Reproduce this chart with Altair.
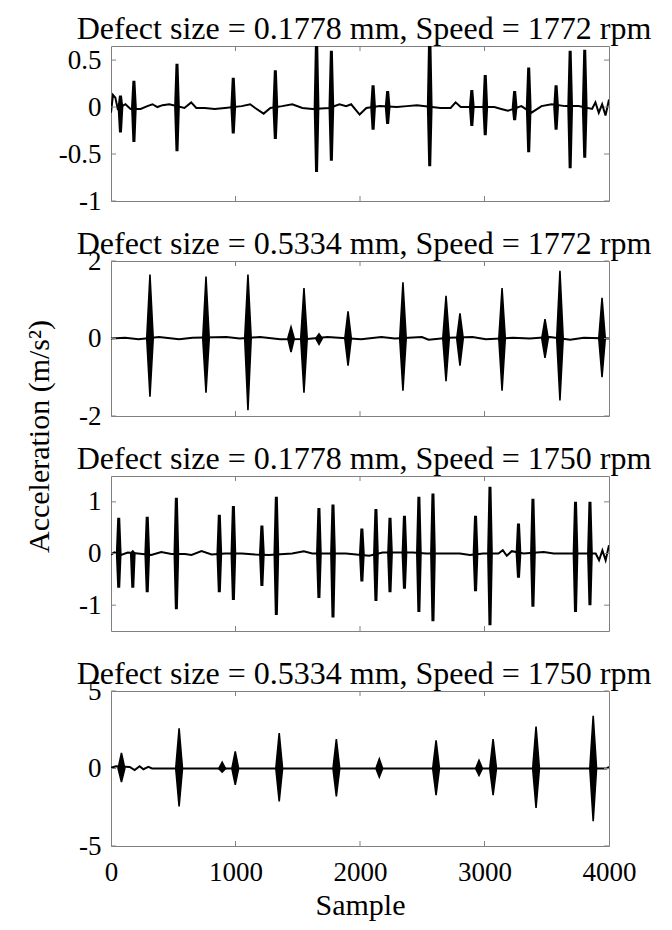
import altair as alt
import pandas as pd

FONT = "Liberation Serif, Times New Roman, serif"
W, H, GAP = 498, 155, 60
TICK = 5
BOX = "#808080"

TITLES = [
    "Defect size = 0.1778 mm, Speed = 1772 rpm",
    "Defect size = 0.5334 mm, Speed = 1772 rpm",
    "Defect size = 0.1778 mm, Speed = 1750 rpm",
    "Defect size = 0.5334 mm, Speed = 1750 rpm",
]
X_DOMAIN = [0, 4000]
X_TICKS = [0, 1000, 2000, 3000, 4000]
Y_DOMAINS = [[-1, 0.65], [-2, 2], [-1.5, 1.5], [-5, 5]]
Y_TICKS = [[-1, -0.5, 0, 0.5], [-2, 0, 2], [-1, 0, 1], [-5, 0, 5]]
Y_TITLE = "Acceleration (m/s²)"
X_TITLE = "Sample"

# ---- Panel 1: slow baseline + impulses
p1_base_x = [0, 16, 35, 54, 89, 116, 157, 238, 292, 333, 373, 414, 468, 590, 644, 685, 752, 833,
             915, 1050, 1118, 1158, 1226, 1280, 1375, 1456, 1537, 1618, 1753, 1835, 1889, 1929,
             1997, 2051, 2159, 2295, 2376, 2457, 2646, 2728, 2768, 2809, 2944, 3079, 3134, 3188,
             3296, 3377, 3458, 3539, 3648, 3756, 3864, 3891, 3918, 3945, 3972, 4000]
p1_base_y = [-0.06, 0.13, 0.10, -0.02, 0.01, 0.03, -0.02, -0.02, 0.01, 0.03, 0.00, 0.02, 0.03, -0.01,
             0.05, -0.01, -0.01, -0.02, -0.01, 0.01, 0.03, -0.01, -0.07, -0.01, 0.01, 0.03, -0.01,
             -0.02, -0.01, 0.03, 0.01, 0.03, -0.08, -0.01, 0.01, 0.00, 0.01, 0.02, -0.01, -0.01,
             0.05, 0.00, 0.00, 0.00, -0.02, -0.04, 0.01, -0.06, 0.01, 0.03, 0.01, 0.01, -0.02,
             0.05, -0.06, 0.03, -0.09, 0.08]
p1_burst_x = [76, 184, 530, 982, 1320, 1651, 1770, 2105, 2222, 2560, 2898, 3006, 3242, 3355, 3575, 3688, 3805]
p1_burst_hi = [0.12, 0.28, 0.46, 0.31, 0.39, 0.75, 0.60, 0.23, 0.17, 0.80, 0.18, 0.34, 0.17, 0.42, 0.23, 0.60, 0.61]
p1_burst_lo = [-0.27, -0.37, -0.47, -0.28, -0.34, -0.69, -0.57, -0.24, -0.18, -0.63, -0.20, -0.30, -0.14,
               -0.48, -0.24, -0.65, -0.54]

# ---- Panel 2
p2_base_x = [0, 114, 222, 385, 547, 655, 926, 1034, 1197, 1359, 1576, 1739, 2009, 2172, 2280, 2497,
             2551, 2713, 2903, 3011, 3228, 3363, 3526, 3688, 3797, 4000]
p2_base_y = [0.0, 0.02, -0.02, 0.04, -0.02, 0.02, 0.04, 0.0, 0.04, -0.02, -0.01, 0.04, -0.02, 0.04,
             0.0, 0.04, -0.03, 0.02, 0.04, -0.02, 0.02, 0.0, 0.04, -0.03, 0.02, 0.0]
p2_burst_x = [313, 763, 1100, 1446, 1550, 1671, 1904, 2345, 2691, 2803, 3141, 3486, 3606, 3944]
p2_burst_hi = [1.65, 1.6, 1.65, 0.3, 1.3, 0.12, 0.7, 1.45, 1.1, 0.65, 1.3, 0.5, 1.75, 1.05]
p2_burst_lo = [-1.5, -1.4, -1.85, -0.35, -1.4, -0.15, -0.7, -1.35, -1.1, -0.7, -1.35, -0.5, -1.6, -1.0]

# ---- Panel 3
p3_base_x = [0, 27, 81, 135, 216, 323, 404, 485, 593, 647, 727, 808, 916, 1051, 1158, 1266, 1455,
             1549, 1616, 1724, 1886, 2074, 2182, 2263, 2425, 2532, 2667, 2802, 2883, 2990, 3112,
             3147, 3179, 3219, 3314, 3475, 3556, 3664, 3799, 3893, 3920, 3947, 3973, 4000]
p3_base_y = [-0.02, 0.02, -0.03, 0.02, 0.0, -0.03, 0.03, -0.01, -0.01, -0.03, 0.045, -0.02, 0.0, 0.0,
             -0.02, -0.03, 0.0, 0.045, 0.0, 0.0, 0.0, -0.045, 0.02, 0.02, 0.02, 0.0, 0.0, 0.0,
             -0.03, 0.0, 0.0, 0.065, -0.045, 0.045, 0.0, 0.03, 0.0, 0.0, 0.0, 0.0, -0.13, 0.06,
             -0.13, 0.16]
p3_burst_x = [62, 175, 291, 525, 870, 983, 1212, 1328, 1670, 1783, 2015, 2128, 2241, 2357, 2473, 2586,
              2928, 3044, 3273, 3389, 3731, 3847]
p3_burst_hi = [0.69, 0.03, 0.71, 1.08, 0.75, 0.92, 0.54, 1.10, 0.88, 0.95, 0.48, 0.86, 0.69, 0.73, 1.10,
               1.16, 0.73, 1.29, 0.58, 1.06, 1.00, 1.00]
p3_burst_lo = [-0.66, -0.66, -0.75, -1.08, -0.75, -0.90, -0.63, -1.19, -0.86, -1.24, -0.54, -0.92, -0.75,
               -0.68, -1.13, -1.31, -0.73, -1.39, -0.47, -1.03, -1.13, -1.00]

# ---- Panel 4
p4_base_x = [0, 40, 150, 190, 230, 260, 300, 330, 3980, 4000]
p4_base_y = [0.05, 0.15, 0.1, -0.1, 0.15, -0.05, 0.1, 0.0, 0.0, 0.1]
p4_burst_x = [84, 547, 893, 998, 1351, 1810, 2155, 2611, 2956, 3069, 3414, 3873]
p4_burst_hi = [1.0, 2.6, 0.4, 1.1, 2.28, 1.9, 0.62, 1.81, 0.53, 1.9, 2.7, 3.4]
p4_burst_lo = [-0.87, -2.45, -0.23, -1.06, -2.13, -1.8, -0.55, -1.72, -0.45, -1.72, -2.55, -3.4]

BASE_X = [p1_base_x, p2_base_x, p3_base_x, p4_base_x]
BASE_Y = [p1_base_y, p2_base_y, p3_base_y, p4_base_y]
BURST_X = [p1_burst_x, p2_burst_x, p3_burst_x, p4_burst_x]
BURST_HI = [p1_burst_hi, p2_burst_hi, p3_burst_hi, p4_burst_hi]
BURST_LO = [p1_burst_lo, p2_burst_lo, p3_burst_lo, p4_burst_lo]

# drawing style per panel: half-width of each impulse envelope (samples) and outline width (px)
HALF_W = [11, 26, 11, 27]
OUTLINE = [3.0, 1.6, 3.0, 1.6]

Y_LABEL = "datum.value < 0 ? '-' + format(-datum.value, '~g') : format(datum.value, '~g')"


def burst_frame(i):
    rows = []
    hw = HALF_W[i]
    for j, (x, hi, lo) in enumerate(zip(BURST_X[i], BURST_HI[i], BURST_LO[i])):
        rows.append({"id": j, "s": x - hw, "hi": 0.0, "lo": 0.0})
        rows.append({"id": j, "s": x, "hi": hi, "lo": lo})
        rows.append({"id": j, "s": x + hw, "hi": 0.0, "lo": 0.0})
    return pd.DataFrame(rows)


def panel(i):
    xs = alt.Scale(domain=X_DOMAIN, nice=False, zero=False)
    ys = alt.Scale(domain=Y_DOMAINS[i], nice=False, zero=False)

    if i == 3:
        x_axis = alt.Axis(values=X_TICKS, format="d", title=X_TITLE, ticks=False, domain=False,
                          grid=False, labelPadding=13, labelFlush=False, labelOverlap=False,
                          titlePadding=5)
    else:
        x_axis = None

    y_kwargs = dict(values=Y_TICKS[i], ticks=False, domain=False, grid=False, labelPadding=10,
                    labelOverlap=False, labelFlush=False, labelExpr=Y_LABEL)
    if i == 1:
        y_axis = alt.Axis(title=Y_TITLE, titleX=-63, titleY=H + 20, titleAngle=270,
                          titleAlign="center", titleBaseline="alphabetic", **y_kwargs)
    else:
        y_axis = alt.Axis(title=None, **y_kwargs)

    base = pd.DataFrame({"s": BASE_X[i], "v": BASE_Y[i]})
    line = alt.Chart(base).mark_line(color="black", strokeWidth=2, clip=True).encode(
        x=alt.X("s:Q", scale=xs, axis=x_axis),
        y=alt.Y("v:Q", scale=ys, axis=y_axis),
    )

    bursts = alt.Chart(burst_frame(i)).mark_area(
        color="black", stroke="black", strokeWidth=OUTLINE[i], clip=True, interpolate="linear"
    ).encode(
        x=alt.X("s:Q", scale=xs, axis=x_axis),
        y=alt.Y("hi:Q", scale=ys, axis=y_axis),
        y2="lo:Q",
        detail="id:N",
    )

    xt = pd.DataFrame({"t": X_TICKS[1:-1]})
    yt = pd.DataFrame({"t": Y_TICKS[i]})
    rule = dict(color=BOX, strokeWidth=1)
    t_top = alt.Chart(xt).mark_rule(**rule).encode(
        x=alt.X("t:Q", scale=xs, axis=x_axis), y=alt.value(0), y2=alt.value(TICK))
    t_bot = alt.Chart(xt).mark_rule(**rule).encode(
        x=alt.X("t:Q", scale=xs, axis=x_axis), y=alt.value(H), y2=alt.value(H - TICK))
    t_left = alt.Chart(yt).mark_rule(**rule).encode(
        y=alt.Y("t:Q", scale=ys, axis=y_axis), x=alt.value(0), x2=alt.value(TICK))
    t_right = alt.Chart(yt).mark_rule(**rule).encode(
        y=alt.Y("t:Q", scale=ys, axis=y_axis), x=alt.value(W), x2=alt.value(W - TICK))

    title = alt.Chart(pd.DataFrame({"t": [TITLES[i]]})).mark_text(
        font=FONT, fontSize=32, color="black", align="center", baseline="alphabetic"
    ).encode(text="t:N", x=alt.value(W / 2 + 4), y=alt.value(-7))

    return alt.layer(line, bursts, t_top, t_bot, t_left, t_right, title).properties(
        width=W, height=H
    )


chart = alt.vconcat(*[panel(i) for i in range(4)], spacing=GAP, bounds="flush").properties(
    padding={"left": 15, "top": 4, "right": 5, "bottom": 5}
).configure_view(
    stroke=BOX, strokeWidth=1
).configure_axis(
    labelFont=FONT, labelFontSize=27, labelColor="black",
    titleFont=FONT, titleFontSize=30, titleFontWeight="normal", titleColor="black",
)

chart.save("out.html", embed_options={"renderer": "svg", "actions": False})
